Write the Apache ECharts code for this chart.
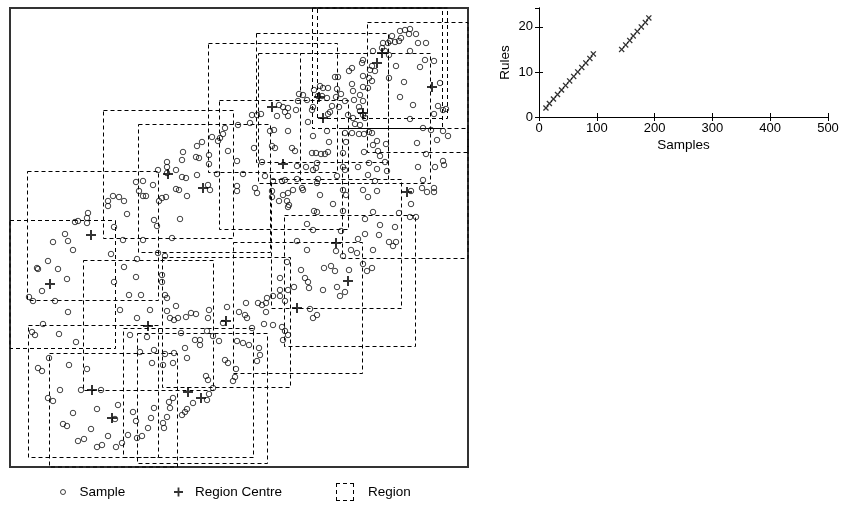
<!DOCTYPE html>
<html>
<head>
<meta charset="utf-8">
<script src="https://cdn.jsdelivr.net/npm/echarts@6/dist/echarts.min.js"></script>
<style>html,body{margin:0;padding:0;background:#fff}#c{width:843px;height:506px}</style>
</head>
<body>
<div id="c"></div>
<script>
// ---- Left panel: sample points (plot units, y measured downward) ----
const samplesTopLeft = [[158,170],[136,182],[143,181],[153,185],[139,191],[143,196],[146,196],[159,201],[108,201],[113,196],[119,197],[124,201],[108,206],[127,214],[88,213],[87,218],[78,221],[75,222],[87,223],[114,227],[154,220],[157,226],[65,234],[123,240],[143,240]];
const samplesTopMid = [[299,94],[303,95],[307,100],[298,101],[279,105],[283,107],[288,108],[296,110],[285,112],[288,116],[277,116],[252,115],[257,115],[261,114],[250,123],[238,125],[308,122],[274,130],[270,131],[288,131],[225,128],[223,134],[220,138],[218,141],[212,137],[202,142],[197,146],[228,151],[254,148],[272,146],[275,148],[292,148],[295,151],[209,155],[183,152],[182,160],[196,157],[199,158],[209,164],[237,161],[262,162],[297,166],[306,167],[167,162],[167,167],[167,173],[176,170],[182,177],[186,178],[197,175],[217,174],[243,174],[265,176],[297,179],[282,181],[285,180],[273,181],[208,185],[210,190],[237,186],[237,191],[255,188],[257,193],[272,191],[272,197],[279,201],[283,195],[288,193],[293,190],[302,188],[303,190],[287,201],[289,205],[288,207],[187,196],[179,190],[176,189],[166,197],[162,198],[180,219],[307,224],[172,238]];
const samplesTopRight = [[392,36],[400,31],[405,30],[410,29],[409,34],[416,34],[401,38],[399,41],[395,42],[390,41],[388,43],[383,43],[418,43],[426,43],[410,51],[425,60],[434,61],[373,51],[382,48],[385,51],[389,55],[363,60],[362,63],[372,66],[370,70],[375,71],[396,66],[420,67],[352,68],[349,71],[363,76],[369,78],[372,81],[389,78],[404,82],[440,83],[335,77],[338,77],[352,84],[363,87],[368,88],[337,89],[320,86],[323,88],[328,88],[314,90],[318,96],[322,96],[327,98],[341,94],[336,97],[353,91],[360,95],[363,101],[345,101],[354,100],[400,97],[413,105],[438,106],[443,110],[446,109],[434,114],[332,106],[339,107],[313,107],[312,110],[348,115],[330,112],[328,114],[353,118],[359,107],[360,111],[363,115],[365,118],[355,124],[360,125],[410,119],[423,128],[431,130],[443,131],[448,136],[327,131],[313,136],[345,133],[352,133],[359,134],[364,134],[369,132],[372,133],[346,142],[329,142],[373,145],[377,141],[386,144],[378,151],[364,152],[380,156],[343,153],[328,152],[312,153],[316,153],[321,154],[325,154],[417,143],[426,154],[437,140],[317,163],[316,168],[369,163],[385,162],[377,169],[358,167],[345,170],[343,167],[387,171],[418,167],[435,167],[443,161],[444,165],[313,170],[337,176],[318,179],[317,183],[368,175],[375,181],[423,180],[422,188],[427,192],[434,188],[434,192],[343,190],[363,190],[377,191],[411,191],[320,195],[346,195],[368,197],[333,204],[411,204],[314,211],[317,212],[343,211],[373,212],[365,219],[399,213],[410,217],[416,217],[380,225],[395,227],[313,230],[341,231],[365,234],[379,235]];
const samplesBottomLeft = [[53,242],[68,241],[73,250],[48,261],[37,268],[38,269],[58,269],[67,279],[42,291],[29,297],[33,301],[55,301],[68,312],[43,324],[32,332],[35,335],[59,334],[76,342],[49,358],[38,368],[42,371],[69,365],[87,369],[60,390],[81,390],[101,390],[48,398],[53,401],[73,413],[97,409],[118,405],[115,419],[63,424],[67,426],[91,429],[108,436],[78,441],[84,439],[97,447],[102,445],[116,447],[122,443],[128,435],[137,438],[142,436],[148,428],[136,421],[133,412],[154,408],[151,418],[111,254],[124,267],[137,259],[136,277],[114,282],[129,295],[141,295],[120,310],[137,318],[150,310],[130,335],[147,337],[140,352],[152,363],[154,350],[158,253]];
const samplesBottomMid = [[297,241],[307,250],[165,256],[162,275],[162,282],[165,295],[167,298],[176,306],[167,311],[170,318],[174,320],[178,318],[186,317],[191,313],[196,314],[209,310],[208,318],[227,307],[223,323],[239,312],[245,315],[247,318],[246,303],[252,328],[258,303],[262,305],[266,312],[266,303],[264,324],[273,325],[267,298],[273,296],[280,296],[285,301],[280,290],[288,290],[294,287],[287,262],[280,278],[301,270],[308,282],[309,288],[305,278],[282,327],[285,331],[283,340],[288,335],[181,333],[200,340],[195,340],[200,345],[207,331],[213,336],[219,341],[165,354],[174,353],[185,348],[187,358],[173,363],[163,365],[225,360],[228,363],[237,341],[243,343],[249,345],[259,348],[260,355],[257,361],[236,369],[233,381],[235,377],[206,376],[208,380],[213,388],[209,394],[207,400],[193,403],[187,409],[185,412],[182,415],[169,402],[170,408],[167,417],[163,423],[164,428],[173,398]];
const samplesBottomRight = [[358,239],[389,242],[396,242],[393,246],[336,251],[343,256],[351,250],[357,253],[373,250],[324,268],[331,266],[335,271],[349,270],[363,264],[367,271],[372,268],[323,290],[337,287],[340,296],[345,292],[310,309],[317,315],[313,318]];

// ---- Left panel: region centres ----
const centres = [[91,235],[50,284],[168,174],[203,188],[272,107],[283,164],[319,97],[323,118],[363,113],[382,53],[377,63],[432,87],[407,192],[336,243],[348,281],[297,308],[226,321],[148,326],[92,390],[112,418],[188,392],[201,398]];

// ---- Left panel: regions [x1, y1, x2, y2] ----
const regions = [[27,171,158,300],[-15,220,115,348],[103,110,233,238],[138,124,270,252],[208,43,337,172],[219,100,348,229],[256,33,388,162],[258,53,388,183],[300,53,430,183],[317,-12,447,118],[312,-2,442,128],[367,22,497,152],[342,128,472,258],[271,179,401,308],[284,215,415,346],[233,242,362,373],[162,257,290,387],[83,260,213,390],[28,325,158,457],[49,353,177,483],[123,328,253,457],[137,333,267,463]];

// ---- Right panel: rules vs samples ----
const ruleSamples = [12,18,25,32,39,46,53,60,67,74,81,88,94,143,150,157,163,170,177,184,190];
const ruleCounts  = [2,3,4,5,6,7,8,9,10,11,12,13,14,15,16,17,18,19,20,21,22];
const xTicks = [0,100,200,300,400,500];
const yTicks = [0,10,20];

const samples = [].concat(samplesTopLeft, samplesTopMid, samplesTopRight, samplesBottomLeft, samplesBottomMid, samplesBottomRight);

const FONT = '"Liberation Sans", Arial, Helvetica, sans-serif';
const PLUS = 'path://M4,0H6V4H10V6H6V10H4V6H0V4H4Z';
const XMARK = 'path://M0,1.5L1.5,0L5,3.5L8.5,0L10,1.5L6.5,5L10,8.5L8.5,10L5,6.5L1.5,10L0,8.5L3.5,5Z';
const DASHSQ = 'path://M0,0H4V1H0Z M7,0H11V1H7Z M14,0H18V1H14Z M0,17H4V18H0Z M7,17H11V18H7Z M14,17H18V18H14Z M0,0H1V4H0Z M0,7H1V11H0Z M0,14H1V18H0Z M17,0H18V4H17Z M17,7H18V11H17Z M17,14H18V18H17Z';

const chart = echarts.init(document.getElementById('c'), null, {renderer: 'canvas'});

const tickAxis = {
  axisLine: {show: true, lineStyle: {color: '#000', width: 1}},
  axisTick: {show: true, inside: true, length: 4, lineStyle: {color: '#000'}},
  splitLine: {show: false}
};

chart.setOption({
  animation: false,
  backgroundColor: '#fff',
  textStyle: {fontFamily: FONT},
  grid: [
    {left: 10, top: 8, width: 458, height: 459, show: true, borderColor: '#333', borderWidth: 2, backgroundColor: 'transparent'},
    {left: 539, top: 8, width: 289, height: 109, show: false}
  ],
  xAxis: [
    {gridIndex: 0, type: 'value', min: 10, max: 468, show: false},
    Object.assign({gridIndex: 1, type: 'value', min: xTicks[0], max: xTicks[xTicks.length - 1], interval: 100, position: 'bottom',
      axisLabel: {margin: 5, color: '#000', fontSize: 13, fontFamily: FONT},
      name: 'Samples', nameLocation: 'middle', nameGap: 21, nameTextStyle: {color: '#000', fontSize: 13.5, fontFamily: FONT}}, tickAxis),
    Object.assign({gridIndex: 1, type: 'value', min: xTicks[0], max: xTicks[xTicks.length - 1], interval: 100, position: 'top',
      axisLabel: {show: false}}, tickAxis)
  ],
  yAxis: [
    {gridIndex: 0, type: 'value', inverse: true, min: 8, max: 467, show: false},
    Object.assign({gridIndex: 1, type: 'value', min: 0, max: 24.2, interval: 10, position: 'left',
      axisLabel: {margin: 6, color: '#000', fontSize: 13, fontFamily: FONT, showMaxLabel: false,
        formatter: v => (yTicks.indexOf(v) >= 0 ? String(v) : '')},
      name: 'Rules', nameLocation: 'middle', nameGap: 27, nameRotate: 90, nameTextStyle: {color: '#000', fontSize: 13.5, fontFamily: FONT}}, tickAxis),
    Object.assign({gridIndex: 1, type: 'value', min: 0, max: 24.2, interval: 10, position: 'right',
      axisLabel: {show: false}}, tickAxis)
  ],
  legend: [
    {left: 60, top: 484, padding: 0, selectedMode: false, itemWidth: 5, itemHeight: 5,
      data: [{name: 'Sample', icon: 'circle', itemStyle: {color: 'transparent', borderColor: '#111', borderWidth: 1}}],
      textStyle: {color: '#000', fontSize: 13.5, fontFamily: FONT, lineHeight: 16, padding: [0, 0, 0, 9]}},
    {left: 174, top: 484, padding: 0, selectedMode: false, itemWidth: 9, itemHeight: 9,
      data: [{name: 'Region Centre', icon: PLUS, itemStyle: {color: '#000', borderWidth: 0}}],
      textStyle: {color: '#000', fontSize: 13.5, fontFamily: FONT, lineHeight: 16, padding: [0, 0, 0, 7]}},
    {left: 336, top: 483, padding: 0, selectedMode: false, itemWidth: 18, itemHeight: 18,
      data: [{name: 'Region', icon: DASHSQ, itemStyle: {color: '#000', borderWidth: 0}}],
      textStyle: {color: '#000', fontSize: 13.5, fontFamily: FONT, lineHeight: 16, padding: [0, 0, 0, 9]}}
  ],
  series: [
    {
      name: 'Region', type: 'custom', xAxisIndex: 0, yAxisIndex: 0, z: 2,
      itemStyle: {color: '#000'},
      data: regions,
      renderItem: function (params, api) {
        const p1 = api.coord([api.value(0), api.value(1)]);
        const p2 = api.coord([api.value(2), api.value(3)]);
        const x = Math.round(Math.min(p1[0], p2[0])) + 0.5;
        const y = Math.round(Math.min(p1[1], p2[1])) + 0.5;
        const w = Math.round(Math.abs(p2[0] - p1[0]));
        const h = Math.round(Math.abs(p2[1] - p1[1]));
        const cs = params.coordSys;
        const shape = echarts.graphic.clipRectByRect({x: x, y: y, width: w, height: h},
          {x: cs.x, y: cs.y, width: cs.width, height: cs.height});
        if (!shape) return null;
        return {type: 'rect', shape: shape, style: {fill: 'none', stroke: '#000', lineWidth: 1, lineDash: [4, 3]}};
      }
    },
    {
      name: 'Sample', type: 'scatter', xAxisIndex: 0, yAxisIndex: 0, z: 3,
      symbol: 'circle', symbolSize: 5.5,
      itemStyle: {color: 'transparent', borderColor: '#111', borderWidth: 1},
      data: samples
    },
    {
      name: 'Region Centre', type: 'scatter', xAxisIndex: 0, yAxisIndex: 0, z: 4,
      symbol: PLUS, symbolSize: 10,
      itemStyle: {color: '#000'},
      data: centres
    },
    {
      name: 'Rules', type: 'scatter', xAxisIndex: 1, yAxisIndex: 1, z: 4,
      symbol: XMARK, symbolSize: 6,
      itemStyle: {color: '#000'},
      data: ruleSamples.map((s, i) => [s, ruleCounts[i]])
    }
  ]
});
</script>
</body>
</html>
